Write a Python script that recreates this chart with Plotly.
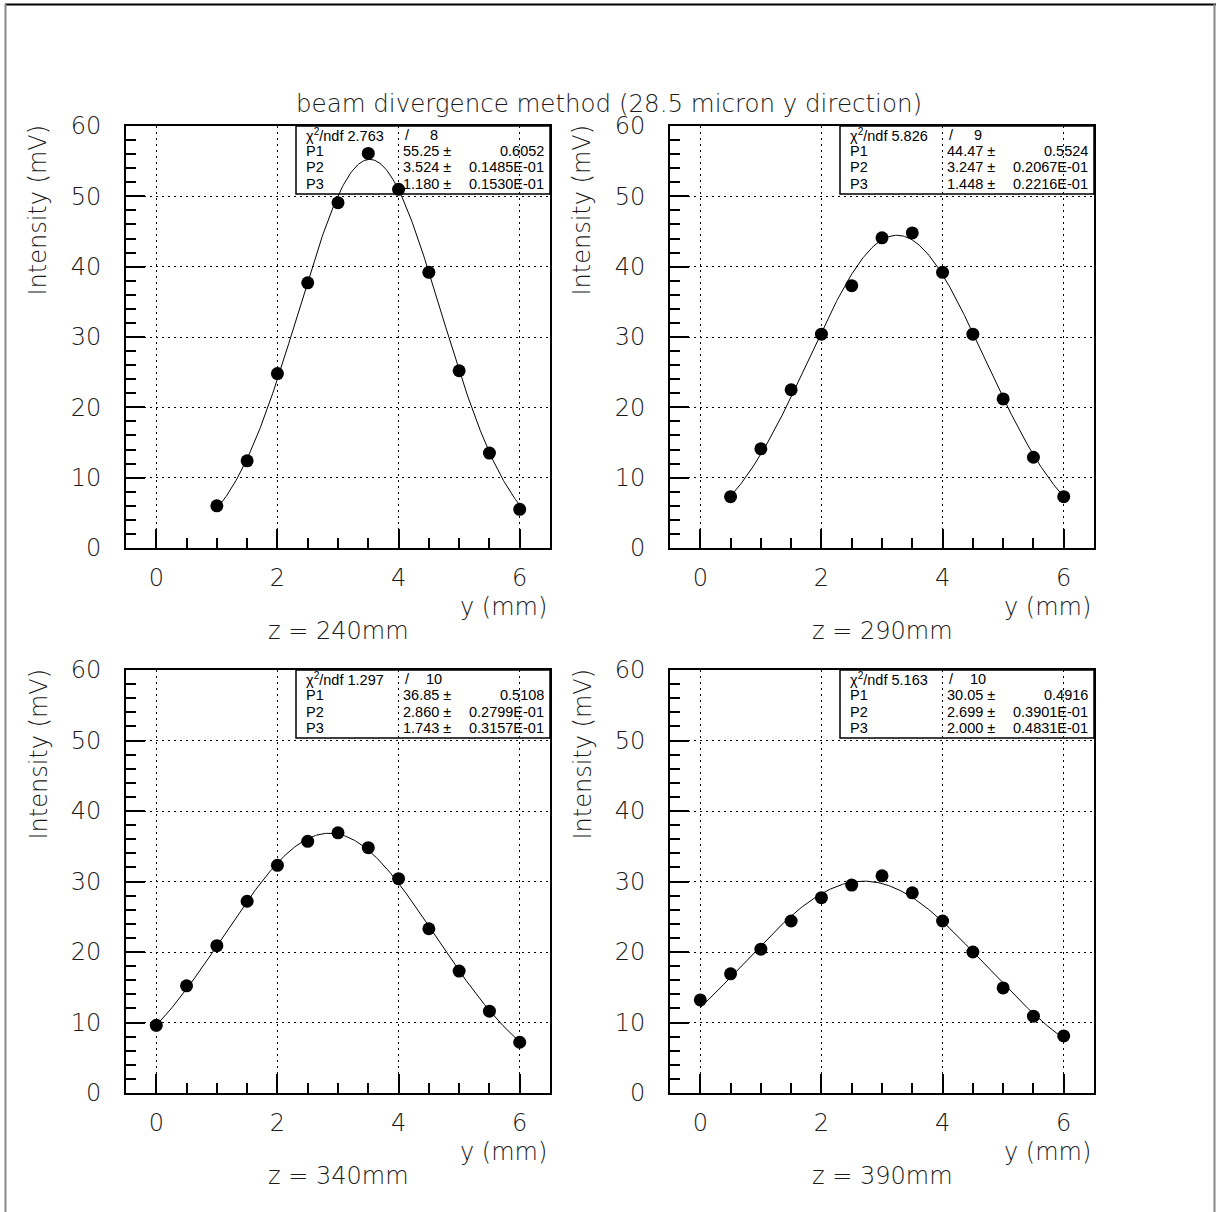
import numpy as np
import plotly.graph_objects as go

W, H = 1216, 1212

# ---- data -------------------------------------------------------------
y_240 = [1.0, 1.5, 2.0, 2.5, 3.0, 3.5, 4.0, 4.5, 5.0, 5.5, 6.0]
i_240 = [6.0, 12.4, 24.8, 37.7, 49.1, 56.1, 51.0, 39.2, 25.2, 13.5, 5.5]

y_290 = [0.5, 1.0, 1.5, 2.0, 2.5, 3.0, 3.5, 4.0, 4.5, 5.0, 5.5, 6.0]
i_290 = [7.3, 14.1, 22.5, 30.4, 37.3, 44.1, 44.8, 39.2, 30.4, 21.2, 12.9, 7.3]

y_340 = [0.0, 0.5, 1.0, 1.5, 2.0, 2.5, 3.0, 3.5, 4.0, 4.5, 5.0, 5.5, 6.0]
i_340 = [9.6, 15.2, 20.9, 27.2, 32.3, 35.7, 36.9, 34.8, 30.4, 23.3, 17.3, 11.6, 7.2]

y_390 = [0.0, 0.5, 1.0, 1.5, 2.0, 2.5, 3.0, 3.5, 4.0, 4.5, 5.0, 5.5, 6.0]
i_390 = [13.2, 16.9, 20.4, 24.4, 27.7, 29.5, 30.8, 28.4, 24.4, 20.0, 14.9, 10.9, 8.1]

# Gaussian fit results: P1 (amplitude), P2 (mean), P3 (sigma)
fit_240 = dict(chi2="2.763", ndf="8",  P=[("55.25", "0.6052"), ("3.524", "0.1485E-01"), ("1.180", "0.1530E-01")])
fit_290 = dict(chi2="5.826", ndf="9",  P=[("44.47", "0.5524"), ("3.247", "0.2067E-01"), ("1.448", "0.2216E-01")])
fit_340 = dict(chi2="1.297", ndf="10", P=[("36.85", "0.5108"), ("2.860", "0.2799E-01"), ("1.743", "0.3157E-01")])
fit_390 = dict(chi2="5.163", ndf="10", P=[("30.05", "0.4916"), ("2.699", "0.3901E-01"), ("2.000", "0.4831E-01")])

z_labels = ["z = 240mm", "z = 290mm", "z = 340mm", "z = 390mm"]
title_text = "beam divergence method (28.5 micron y direction)"

panels = [
    (y_240, i_240, fit_240, z_labels[0]),
    (y_290, i_290, fit_290, z_labels[1]),
    (y_340, i_340, fit_340, z_labels[2]),
    (y_390, i_390, fit_390, z_labels[3]),
]

# ---- layout geometry (pixels) ----------------------------------------
# (left, right, top, bottom) of each plotting frame
frames = [
    (126, 550, 126, 548),
    (670, 1094, 126, 548),
    (126, 550, 670, 1093),
    (670, 1094, 670, 1093),
]

def fx(px):
    return px / W

def fy(py):
    return 1 - py / H

FONT = "DejaVu Sans"
TXT = "#1a1a1a"
big = dict(family=FONT, size=24, color=TXT, weight=200)

fig = go.Figure()
annotations = []
shapes = []

for k, ((xs, ys, fit, zlab), (l, r, t, b)) in enumerate(zip(panels, frames)):
    n = k + 1
    xa = "x" if n == 1 else f"x{n}"
    ya = "y" if n == 1 else f"y{n}"

    # fitted Gaussian over the measured range
    p1, p2, p3 = (float(v[0]) for v in fit["P"])
    xc = np.linspace(min(xs), max(xs), 300)
    yc = p1 * np.exp(-0.5 * ((xc - p2) / p3) ** 2)
    fig.add_trace(go.Scatter(x=xc, y=yc, mode="lines", xaxis=xa, yaxis=ya,
                             line=dict(color="black", width=1), showlegend=False,
                             hoverinfo="skip"))
    fig.add_trace(go.Scatter(x=xs, y=ys, mode="markers", xaxis=xa, yaxis=ya,
                             marker=dict(color="black", size=13), showlegend=False))

    axis_common = dict(
        showline=True, linecolor="black", linewidth=2, mirror=True,
        ticks="inside", tickcolor="black", tickwidth=1.5, ticklen=19,
        showgrid=True, gridcolor="black", gridwidth=1, griddash="2px,4px",
        zeroline=False, tickfont=big, automargin=False,
    )
    fig.layout[f"xaxis{'' if n == 1 else n}"] = dict(
        axis_common, domain=[fx(l), fx(r)], range=[-0.5, 6.5], tick0=0, dtick=2,
        anchor=ya, ticklabelstandoff=7,
        minor=dict(dtick=0.5, tick0=0, ticks="inside", ticklen=10, tickwidth=1.5,
                   tickcolor="black", showgrid=False),
    )
    fig.layout[f"yaxis{'' if n == 1 else n}"] = dict(
        axis_common, domain=[fy(b), fy(t)], range=[0, 60], tick0=0, dtick=10,
        anchor=xa, ticklabelstandoff=18,
        minor=dict(dtick=2, tick0=0, ticks="inside", ticklen=10, tickwidth=1.5,
                   tickcolor="black", showgrid=False),
    )

    # axis titles and panel caption
    annotations.append(dict(text="Intensity (mV)", x=fx(l - 88), y=fy(t - 3),
                            xref="paper", yref="paper", textangle=-90,
                            xanchor="center", yanchor="top", showarrow=False, font=big))
    annotations.append(dict(text="y (mm)", x=fx(r - 1), y=fy(b + 59),
                            xref="paper", yref="paper", xanchor="right", yanchor="middle",
                            showarrow=False, font=big))
    annotations.append(dict(text=zlab, x=fx((l + r) / 2), y=fy(b + 83),
                            xref="paper", yref="paper", xanchor="center", yanchor="middle",
                            showarrow=False, font=big))

    # statistics box
    bl, bt, bb = l + 170, t, t + 68
    shapes.append(dict(type="rect", xref="paper", yref="paper",
                       x0=fx(bl), x1=fx(r), y0=fy(bb), y1=fy(bt),
                       line=dict(color="black", width=1.5), fillcolor="rgba(0,0,0,0)"))
    rows_y = [bt + 8.5, bt + 25, bt + 41.5, bt + 58]
    sfont = dict(family="Liberation Sans", size=14.5, color="black")
    annotations.append(dict(text=f"χ<sup>2</sup>/ndf {fit['chi2']}", x=fx(bl + 8), y=fy(rows_y[0]),
                            xref="paper", yref="paper", xanchor="left", yanchor="middle",
                            showarrow=False, font=sfont))
    annotations.append(dict(text="/", x=fx(l + 277), y=fy(rows_y[0]),
                            xref="paper", yref="paper", xanchor="left", yanchor="middle",
                            showarrow=False, font=sfont))
    annotations.append(dict(text=fit["ndf"], x=fx(l + 308), y=fy(rows_y[0]),
                            xref="paper", yref="paper", xanchor="center", yanchor="middle",
                            showarrow=False, font=sfont))
    for j, (val, err) in enumerate(fit["P"]):
        yy = fy(rows_y[j + 1])
        annotations.append(dict(text=f"P{j + 1}", x=fx(bl + 8), y=yy, xref="paper", yref="paper",
                                xanchor="left", yanchor="middle", showarrow=False, font=sfont))
        annotations.append(dict(text=f"{val} ±", x=fx(l + 275), y=yy, xref="paper", yref="paper",
                                xanchor="left", yanchor="middle", showarrow=False, font=sfont))
        annotations.append(dict(text=err, x=fx(r - 4), y=yy, xref="paper", yref="paper",
                                xanchor="right", yanchor="middle", showarrow=False, font=sfont))

# page title
annotations.append(dict(text=title_text, x=fx(609), y=fy(103), xref="paper", yref="paper",
                        xanchor="center", yanchor="middle", showarrow=False,
                        font=dict(big, size=24.5)))

# outer page frame
shapes.append(dict(type="line", xref="paper", yref="paper", x0=fx(5), x1=1, y0=fy(4.5), y1=fy(4.5),
                   line=dict(color="black", width=2)))
shapes.append(dict(type="line", xref="paper", yref="paper", x0=fx(5.5), x1=fx(5.5), y0=0, y1=fy(4),
                   line=dict(color="#888888", width=2)))
shapes.append(dict(type="line", xref="paper", yref="paper", x0=fx(1214.5), x1=fx(1214.5), y0=0, y1=fy(4),
                   line=dict(color="#888888", width=2)))

fig.update_layout(
    width=W, height=H, margin=dict(l=0, r=0, t=0, b=0, autoexpand=False),
    paper_bgcolor="white", plot_bgcolor="white",
    annotations=annotations, shapes=shapes, showlegend=False,
)

fig.write_html("out.html")
